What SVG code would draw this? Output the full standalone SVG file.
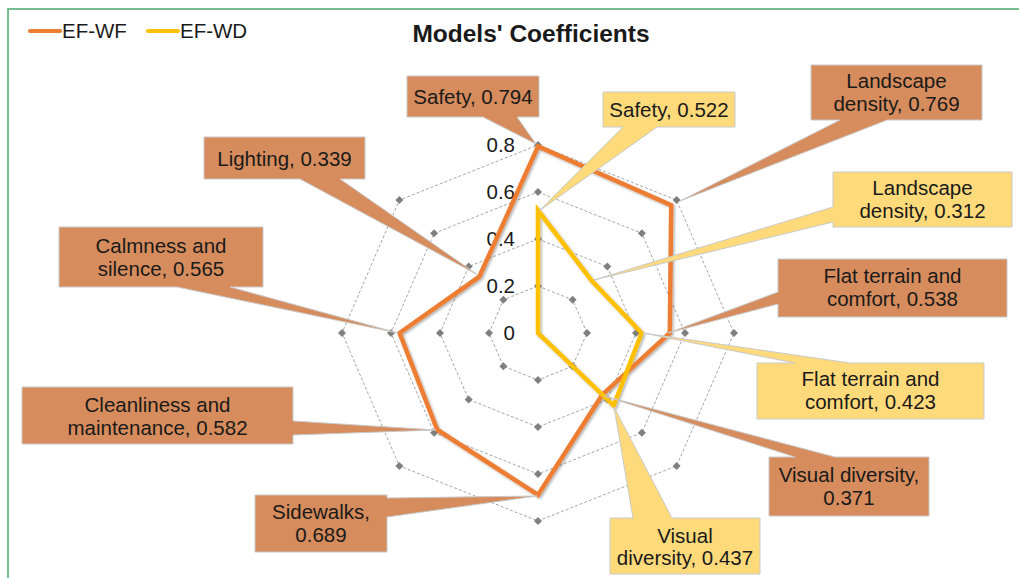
<svg xmlns="http://www.w3.org/2000/svg" width="1019" height="578" viewBox="0 0 1019 578">
<style>
text{font-family:"Liberation Sans",Arial,sans-serif;fill:#1a1a1a;}
.lbl{font-size:20.5px;text-anchor:middle;}
.ax{font-size:20.5px;text-anchor:end;}
.ring{fill:none;stroke:#a6a6a6;stroke-width:1;stroke-dasharray:3,2;}
.mk{fill:#7f7f7f;}
.co{fill:#d68c5c;stroke:#c9c9c9;stroke-width:1;}
.cy{fill:#ffda7b;stroke:#c9c9c9;stroke-width:1;}
.ser{fill:none;stroke-width:4.5;stroke-linejoin:miter;}
</style>
<defs>
<filter id="sh" x="-10%" y="-10%" width="120%" height="120%">
<feDropShadow dx="1.5" dy="1.5" stdDeviation="1" flood-color="#000" flood-opacity="0.3"/>
</filter>
<path id="dm" d="M0,-4 L4,0 L0,4 L-4,0 Z"/>
</defs>
<rect x="0" y="0" width="1019" height="578" fill="#ffffff"/>
<path d="M8,578 V9 H1019" fill="none" stroke="#4ea671" stroke-width="1.5"/>
<g id="title"><text x="531" y="42" style="font-size:24.5px;font-weight:bold;text-anchor:middle;">Models' Coefficients</text></g>
<g id="legend">
<line x1="30" y1="31" x2="60" y2="31" stroke="#ed7d31" stroke-width="4" stroke-linecap="round"/>
<text x="62" y="38" style="font-size:20.5px;">EF-WF</text>
<line x1="148" y1="31" x2="178" y2="31" stroke="#ffc000" stroke-width="4" stroke-linecap="round"/>
<text x="180" y="38" style="font-size:20.5px;">EF-WD</text>
</g>
<g id="grid">
<polygon class="ring" points="538,286 572.6,299.8 587,333 572.6,366.2 538,380 503.4,366.2 489,333 503.4,299.8"/>
<polygon class="ring" points="538,239 607.3,266.5 636,333 607.3,399.5 538,427 468.7,399.5 440,333 468.7,266.5"/>
<polygon class="ring" points="538,192 641.9,233.3 685,333 641.9,432.7 538,474 434.1,432.7 391,333 434.1,233.3"/>
<polygon class="ring" points="538,145 676.6,200.1 734,333 676.6,465.9 538,521 399.4,465.9 342,333 399.4,200.1"/>
<g class="mk">
<use href="#dm" x="538" y="286"/><use href="#dm" x="572.6" y="299.8"/><use href="#dm" x="587" y="333"/><use href="#dm" x="572.6" y="366.2"/><use href="#dm" x="538" y="380"/><use href="#dm" x="503.4" y="366.2"/><use href="#dm" x="489" y="333"/><use href="#dm" x="503.4" y="299.8"/>
<use href="#dm" x="538" y="239"/><use href="#dm" x="607.3" y="266.5"/><use href="#dm" x="636" y="333"/><use href="#dm" x="607.3" y="399.5"/><use href="#dm" x="538" y="427"/><use href="#dm" x="468.7" y="399.5"/><use href="#dm" x="440" y="333"/><use href="#dm" x="468.7" y="266.5"/>
<use href="#dm" x="538" y="192"/><use href="#dm" x="641.9" y="233.3"/><use href="#dm" x="685" y="333"/><use href="#dm" x="641.9" y="432.7"/><use href="#dm" x="538" y="474"/><use href="#dm" x="434.1" y="432.7"/><use href="#dm" x="391" y="333"/><use href="#dm" x="434.1" y="233.3"/>
<use href="#dm" x="538" y="145"/><use href="#dm" x="676.6" y="200.1"/><use href="#dm" x="734" y="333"/><use href="#dm" x="676.6" y="465.9"/><use href="#dm" x="538" y="521"/><use href="#dm" x="399.4" y="465.9"/><use href="#dm" x="342" y="333"/><use href="#dm" x="399.4" y="200.1"/>
</g>
</g>
<g id="axis-labels">
<text class="ax" x="515" y="340">0</text>
<text class="ax" x="515" y="293">0.2</text>
<text class="ax" x="515" y="246">0.4</text>
<text class="ax" x="515" y="199">0.6</text>
<text class="ax" x="515" y="152">0.8</text>
</g>
<g id="connectors" filter="url(#sh)">
<polygon id="series-ef-wf" class="ser" stroke="#ed7d31" points="538,146.4 671.2,205.2 669.8,333 602.3,394.7 538,494.9 437.2,429.7 399.6,333 479.3,276.7"/>
<polygon id="series-ef-wd" class="ser" stroke="#ffc000" points="538,210.3 592,281.1 641.6,333 613.7,405.6 538,333"/>
</g>
<g id="label-safety-wf"><path class="co" d="M407,76 H539 V117 H517 L536,144 L483,117 H407 Z"/><text class="lbl" x="473" y="104">Safety, 0.794</text></g>
<g id="label-safety-wd"><path class="cy" d="M603,92 H735 V127 H657 L539,211 L623,127 H603 Z"/><text class="lbl" x="669" y="117">Safety, 0.522</text></g>
<g id="label-landscape-wf"><path class="co" d="M811,65 H982 V120 H887 L680,201 L840,120 H811 Z"/><text class="lbl" x="896.5" y="88">Landscape</text><text class="lbl" x="896.5" y="111">density, 0.769</text></g>
<g id="label-landscape-wd"><path class="cy" d="M833,172 H1012 V227 H833 V222 L594,280 L833,207 Z"/><text class="lbl" x="922.5" y="195">Landscape</text><text class="lbl" x="922.5" y="218">density, 0.312</text></g>
<g id="label-flat-wf"><path class="co" d="M778,259 H1007 V317 H778 V304 L668,333 L778,292 Z"/><text class="lbl" x="892.5" y="283">Flat terrain and</text><text class="lbl" x="892.5" y="306">comfort, 0.538</text></g>
<g id="label-flat-wd"><path class="cy" d="M757,363 H795 L643,333 L850,363 H984 V419 H757 Z"/><text class="lbl" x="870.5" y="386">Flat terrain and</text><text class="lbl" x="870.5" y="409">comfort, 0.423</text></g>
<g id="label-visual-wf"><path class="co" d="M769,457 H795 L604,396 L835,457 H929 V516 H769 Z"/><text class="lbl" x="849" y="482">Visual diversity,</text><text class="lbl" x="849" y="505">0.371</text></g>
<g id="label-visual-wd"><path class="cy" d="M610,518 H633 L614,407 L672,518 H760 V574 H610 Z"/><text class="lbl" x="685" y="543">Visual</text><text class="lbl" x="685" y="565">diversity, 0.437</text></g>
<g id="label-sidewalks"><path class="co" d="M255,495 H387 V498 L537,496 L387,517 V552 H255 Z"/><text class="lbl" x="321" y="519">Sidewalks,</text><text class="lbl" x="321" y="542">0.689</text></g>
<g id="label-cleanliness"><path class="co" d="M22,387 H293 V421 L436,430 L293,435 V444 H22 Z"/><text class="lbl" x="157.5" y="412">Cleanliness and</text><text class="lbl" x="157.5" y="435">maintenance, 0.582</text></g>
<g id="label-calmness"><path class="co" d="M59,227 H263 V287 H230 L398,333 L177,287 H59 Z"/><text class="lbl" x="161" y="253">Calmness and</text><text class="lbl" x="161" y="276">silence, 0.565</text></g>
<g id="label-lighting"><path class="co" d="M204,137 H365 V179 H340 L478,275 L300,179 H204 Z"/><text class="lbl" x="284.5" y="166">Lighting, 0.339</text></g>
</svg>
